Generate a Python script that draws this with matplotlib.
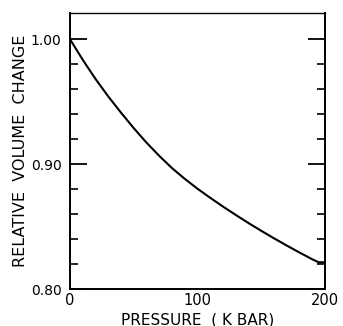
import matplotlib
matplotlib.use("Agg")
import matplotlib.pyplot as plt

pressure = [0, 10, 20, 30, 40, 50, 60, 70, 80, 90, 100, 110, 120, 130, 140, 150,
            160, 170, 180, 190, 195, 200]
volume = [1.000, 0.9835, 0.9682, 0.9542, 0.9412, 0.9288, 0.9172, 0.9066, 0.8968, 0.8882,
          0.8803, 0.8730, 0.8660, 0.8593, 0.8528, 0.8466, 0.8406, 0.8348, 0.8292, 0.8238,
          0.8214, 0.8214]
x_ticks = [0, 100, 200]
x_tick_labels = ["0", "100", "200"]
y_major = [0.80, 0.90, 1.00]
y_major_labels = ["0.80", "0.90", "1.00"]
y_minor = [0.82, 0.84, 0.86, 0.88, 0.92, 0.94, 0.96, 0.98]

plt.rcParams['font.family'] = ['DejaVu Sans']
fig = plt.figure(figsize=(3.43, 3.26), dpi=100)
ax = fig.add_axes([70/343, 37/326, 255/343, 276/326])
ax.plot(pressure, volume, color='black', lw=1.5, solid_joinstyle='round')
ax.set_xlim(0, 200)
ax.set_ylim(0.80, 1.021)

ax.set_xticks(x_ticks)
ax.set_xticklabels(x_tick_labels, fontsize=10.5)
ax.tick_params(axis='x', length=0, pad=3)
ax.set_yticks(y_major)
ax.set_yticklabels(y_major_labels, fontsize=10)
ax.set_yticks(y_minor, minor=True)
ax.tick_params(axis='y', which='major', direction='in', length=12, width=1.3, right=True, pad=6)
ax.tick_params(axis='y', which='minor', direction='in', length=6, width=1.2, right=True)
for s in ax.spines.values():
    s.set_linewidth(1.4)
ax.spines['top'].set_linewidth(1.0)

ax.set_xlabel("PRESSURE  ( K BAR)", fontsize=11, labelpad=3)
ax.set_ylabel("RELATIVE  VOLUME  CHANGE", fontsize=11.5, labelpad=2)
fig.savefig("out.png", dpi=100)
